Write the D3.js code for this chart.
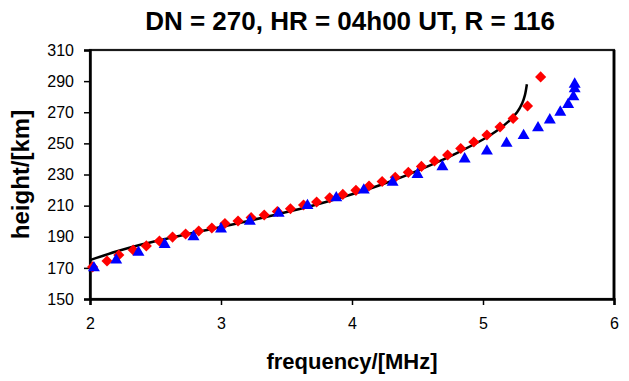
<!DOCTYPE html>
<html>
<head>
<meta charset="utf-8">
<script src="https://cdn.jsdelivr.net/npm/d3@7"></script>
<style>
  html, body { margin: 0; padding: 0; background: #fff; }
  svg { display: block; font-family: "Liberation Sans", Arial, sans-serif; }
</style>
</head>
<body>
<svg id="chart" width="629" height="381"></svg>
<script>
// Measured profile (red diamonds): frequency [MHz], virtual height [km]
const redFreq = [2.02, 2.13, 2.22, 2.33, 2.43, 2.53, 2.63, 2.73, 2.83, 2.93,
                 3.03, 3.13, 3.23, 3.33, 3.43, 3.53, 3.63, 3.73, 3.83, 3.93,
                 4.03, 4.13, 4.23, 4.33, 4.43, 4.53, 4.63, 4.73, 4.83, 4.93,
                 5.03, 5.13, 5.23, 5.34, 5.44];
const redHeight = [170.6, 174.4, 178.3, 181.5, 184.1, 187.3, 189.8, 191.8, 193.7, 195.6,
                   198.5, 200.1, 202.3, 204.0, 206.2, 208.0, 210.4, 212.3, 215.0, 217.2,
                   219.8, 222.6, 225.5, 228.2, 231.4, 235.2, 238.7, 242.5, 246.7, 250.9,
                   255.4, 260.5, 266.0, 274.0, 292.7];

// Model profile (blue triangles)
const blueFreq = [2.03, 2.20, 2.37, 2.57, 2.79, 3.00, 3.22, 3.44, 3.66, 3.88,
                  4.09, 4.31, 4.50, 4.69, 4.86, 5.03, 5.18, 5.31, 5.42, 5.51,
                  5.59, 5.65, 5.69, 5.70, 5.70];
const blueHeight = [170, 175, 180, 185, 190, 195, 200, 205, 210, 215,
                    220, 225, 230, 235, 240, 245, 250, 255, 260, 265,
                    270, 275, 280, 285, 288];

// Reference curve (black line)
const lineFreq = [2.00, 2.20, 2.40, 2.60, 2.80, 3.00, 3.20, 3.40, 3.60, 3.80,
                  4.00, 4.20, 4.40, 4.60, 4.80, 5.00, 5.10, 5.20, 5.26, 5.30,
                  5.32, 5.335];
const lineHeight = [175.0, 180.5, 185.2, 189.0, 192.7, 196.3, 200.0, 203.8, 207.8, 212.3,
                    217.3, 222.8, 229.0, 236.0, 243.8, 252.5, 257.8, 264.5, 270.0, 276.0,
                    281.0, 288.0];

const xTicks = [2, 3, 4, 5, 6];
const yTicks = [150, 170, 190, 210, 230, 250, 270, 290, 310];

const titleText = "DN = 270, HR = 04h00 UT, R = 116";
const xLabel = "frequency/[MHz]";
const yLabel = "height/[km]";

const svg = d3.select("#chart");
const plot = { left: 90, right: 614, top: 50, bottom: 299 };

const x = d3.scaleLinear().domain([2, 6]).range([plot.left, plot.right]);
const y = d3.scaleLinear().domain([150, 310]).range([plot.bottom, plot.top]);

// plot area frame
svg.append("rect")
  .attr("x", plot.left).attr("y", plot.top)
  .attr("width", plot.right - plot.left).attr("height", plot.bottom - plot.top)
  .attr("fill", "#fff").attr("stroke", "#1a1a1a").attr("stroke-width", 2.2);
svg.append("line")
  .attr("x1", plot.right).attr("x2", plot.right)
  .attr("y1", plot.top).attr("y2", plot.bottom)
  .attr("stroke", "#000").attr("stroke-width", 2.8);

// axes
const xAxis = svg.append("g")
  .attr("transform", `translate(0,${plot.bottom})`)
  .call(d3.axisBottom(x).tickValues(xTicks).tickSize(6).tickPadding(10).tickFormat(d3.format("d")));
const yAxis = svg.append("g")
  .attr("transform", `translate(${plot.left},0)`)
  .call(d3.axisLeft(y).tickValues(yTicks).tickSize(6).tickPadding(10).tickFormat(d3.format("d")));

[xAxis, yAxis].forEach(g => {
  g.select(".domain").attr("stroke", "#000").attr("stroke-width", 2.5);
  g.selectAll(".tick line").attr("stroke", "#000").attr("stroke-width", 1.5);
  g.selectAll(".tick text")
    .attr("fill", "#000")
    .style("font-size", "16px")
    .style("font-family", "'Liberation Sans', Arial, sans-serif");
});
xAxis.selectAll(".tick text").attr("dy", "0.9em");

// reference curve
const lineData = lineFreq.map((f, i) => [f, lineHeight[i]]);
svg.append("path")
  .datum(lineData)
  .attr("fill", "none")
  .attr("stroke", "#000")
  .attr("stroke-width", 2.5)
  .attr("d", d3.line().x(d => x(d[0])).y(d => y(d[1])).curve(d3.curveCatmullRom.alpha(0.5)));

// red diamonds
const redData = redFreq.map((f, i) => [f, redHeight[i]]);
svg.append("g").selectAll("path")
  .data(redData).join("path")
  .attr("transform", d => `translate(${x(d[0])},${y(d[1])}) rotate(45)`)
  .attr("d", d3.symbol(d3.symbolSquare, 62)())
  .attr("fill", "#ff0000");

// blue triangles
const blueData = blueFreq.map((f, i) => [f, blueHeight[i]]);
svg.append("g").selectAll("path")
  .data(blueData).join("path")
  .attr("transform", d => `translate(${x(d[0])},${y(d[1])})`)
  .attr("d", d3.symbol(d3.symbolTriangle, 62)())
  .attr("fill", "#0000ff");

// titles
svg.append("text")
  .attr("x", 350).attr("y", 30)
  .attr("text-anchor", "middle")
  .style("font-size", "26px").style("font-weight", "bold")
  .text(titleText);

svg.append("text")
  .attr("x", 352).attr("y", 369)
  .attr("text-anchor", "middle")
  .style("font-size", "22px").style("font-weight", "bold")
  .text(xLabel);

svg.append("text")
  .attr("transform", `translate(29,${(plot.top + plot.bottom) / 2}) rotate(-90)`)
  .attr("text-anchor", "middle")
  .style("font-size", "24px").style("font-weight", "bold")
  .text(yLabel);
</script>
</body>
</html>
